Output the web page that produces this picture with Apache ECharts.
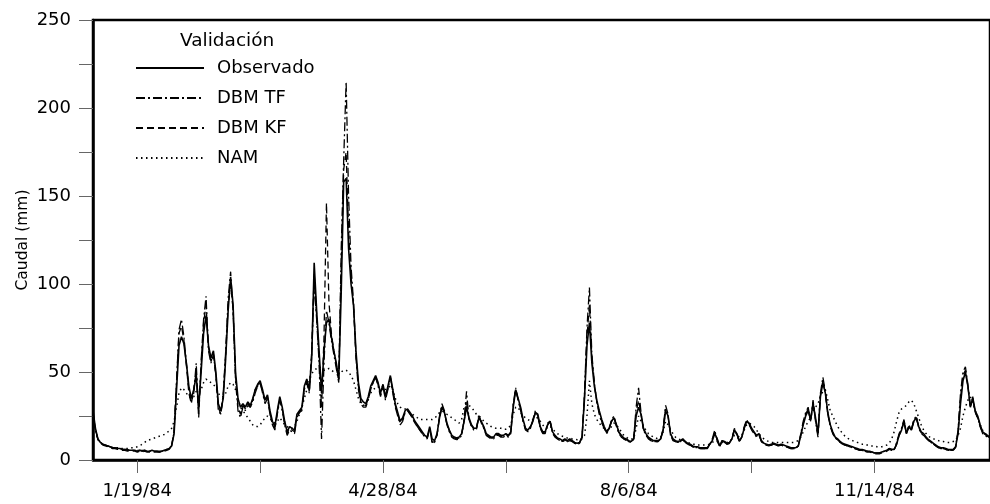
<!DOCTYPE html>
<html>
<head>
<meta charset="utf-8">
<script src="https://cdn.jsdelivr.net/npm/echarts@6/dist/echarts.min.js"></script>
<style>
html,body{margin:0;padding:0;background:#fff;}
#chart{width:990px;height:504px;}
</style>
</head>
<body>
<div id="chart"></div>
<script>
// Day index 0 = 1/1/84
const tickDays = [18, 68, 118, 168, 218, 268, 318];
const labelDays = [18, 118, 218, 318];
const tickLabels = ['1/19/84', '4/28/84', '8/6/84', '11/14/84'];
const seriesNames = ['Observado', 'DBM TF', 'DBM KF', 'NAM'];

const observado = [
28,18,12,10,9,8.5,8,7.5,7,7,
6.5,6.5,6,6,5.5,5.5,5.5,5.5,5,5.5,
5,5.5,5,5,5.5,5,5,4.5,5,5.5,
6,6.5,8,15,40,65,70,66,55,42,
35,40,48,30,50,72,82,65,58,62,
50,32,28,35,58,85,104,88,50,35,
30,32,30,33,31,35,40,43,45,40,
34,37,28,22,19,28,36,30,22,16,
19,18,17,26,28,30,42,46,40,58,
112,85,62,38,62,78,80,70,62,55,
46,95,158,160,120,100,88,62,44,35,
33,32,36,42,45,48,44,38,43,36,
42,48,40,32,27,22,24,28,29,27,
25,22,20,18,16,14,13,19,12,11,
15,24,30,27,21,17,14,13,12.5,13,
15,22,30,24,20,18,18,24,22,19,
15,14,13,13,15,15,14,14,15,14,
16,30,40,35,30,23,18,17,19,22,
27,26,19,16,16,20,22,16,14,12.5,
12,11,12,11,12,11,10,9.5,10,13,
35,65,78,55,42,34,28,23,19,16,
18,22,24,20,16,14,12.5,12,11,10.5,
12,25,30,26,18,15,13,12,11,11,
11,12,17,28,25,15,12,11,10.5,11,
12,10.5,9.5,9,8,7.5,7.5,7,7,7,
7,9,11,15,12,8,11,10.5,9.5,10,
12,17,15,11,13,18,22,21,18,16,
14,15,11,9.5,9,8.5,9,9.5,9,8.5,
9,8.5,8,7.5,7,7,7,8,14,20,
25,28,23,32,24,15,36,44,38,27,
20,16,13,12,10.5,9.5,9,8.5,8,7.5,
7,6.5,6,6,5.5,5,5,4.5,4,4,
4,4.5,5,5.5,6.5,6,6,9,14,17,
22,15,19,17,22,24,19,16,15,13,
11.5,10.5,9.5,8.5,7.5,7,7,6.5,6,6,
6,7.5,15,32,45,50,42,30,35,28,
25,20,16,15,14,13
];

const dbmTF = [
26,17,12,10,9,8.5,8,7.5,7,7,
6.5,6.5,6,6,6,5.5,5.5,5.5,5.5,5.5,
5.5,5.5,5,5,5,5,5,5,5,5.5,
6,6.5,8,16,45,74,80,70,55,40,
33,38,55,26,56,80,93,62,55,60,
48,28,26,38,62,92,107,84,45,28,
24,30,28,31,30,33,38,42,44,38,
32,35,26,20,17,26,34,28,20,14,
17,16,15,24,27,28,40,44,38,60,
100,80,55,12,55,85,78,68,60,52,
44,120,170,215,150,110,90,58,40,32,
30,30,34,40,44,47,42,36,42,34,
40,47,38,30,25,20,22,27,28,26,
24,21,19,17,15,13,12,18,9.5,10,
14,25,32,28,20,16,13,12,11.5,12,
14,23,39,23,19,17,17,26,21,18,
14,13,12,12,14,14,13,13,14,13,
15,32,41,34,28,22,17,16,18,23,
28,25,18,15,15,21,22,15,13,12,
11,10.5,11,10.5,11,10.5,9.5,9,9.5,13,
38,75,98,60,44,33,26,21,18,15,
17,23,25,19,15,13,12,11,10.5,10,
12,30,41,27,17,14,12,11,10.5,10.5,
10.5,12,18,31,26,14,11,10.5,10,10.5,
11.5,10,9,8.5,7.5,7,7,6.5,6.5,6.5,
6.5,9,12,17,11,7.5,11,10,9,9.5,
12,18,14,10.5,13,19,23,20,17,15,
13,14,10.5,9,8.5,8,8.5,9,8.5,8,
8.5,8,7.5,7,6.5,6.5,6.5,8,15,22,
27,30,22,34,22,13,38,47,39,26,
19,15,12.5,11.5,10,9,8.5,8,7.5,7,
6.5,6,5.5,5.5,5,5,4.5,4.5,4,4,
4,4.5,5,5.5,6.5,6,6,10,15,18,
23,15,20,17,23,25,18,15,14,12.5,
11,10,9,8,7,6.5,6.5,6,5.5,5.5,
5.5,7.5,17,38,50,53,43,30,36,27,
24,19,15,14,13,12
];

const dbmKF = [
27,17,11.5,9.5,8.5,8,7.5,7,6.5,6.5,
6,6,5.5,5.5,5,5,5,5,4.5,5,
4.5,5,4.5,4.5,5,4.5,4.5,4.5,4.5,5,
5.5,6,8,17,44,72,76,68,54,38,
32,40,50,24,54,78,88,64,56,60,
48,30,26,36,60,88,100,86,48,30,
26,31,29,32,30,34,40,42,44,39,
33,36,27,20,18,27,35,29,21,15,
18,17,16,25,27,29,41,45,39,62,
106,82,58,30,70,146,90,72,62,54,
45,110,165,175,130,105,88,60,42,33,
31,31,35,41,44,47,43,37,42,35,
41,47,39,31,26,21,23,27,28,26,
24,21,19,17,15,13.5,12.5,18,10,10.5,
14.5,24,31,27,20.5,16.5,13.5,12.5,12,12.5,
14.5,22,33,23,19.5,17.5,17.5,25,21,18.5,
14.5,13.5,12.5,12.5,14.5,14.5,13.5,13.5,14.5,13.5,
15.5,31,40,34,29,22,17.5,16.5,18.5,22,
27,25,18,15.5,15.5,20,22,15.5,13.5,12,
11.5,10.5,11.5,10.5,11.5,10.5,9.5,9,9.5,13,
36,70,88,58,43,33,27,22,18.5,15.5,
17.5,22,24,19.5,15.5,13.5,12,11.5,10.5,10,
12,27,34,26,17.5,14.5,12.5,11.5,10.5,10.5,
10.5,12,17,29,25,14.5,11.5,10.5,10,10.5,
11.5,10,9,8.5,7.5,7,7,6.5,6.5,6.5,
6.5,9,11,16,11.5,7.5,11,10,9,9.5,
12,17.5,14.5,10.5,13,18.5,22,20.5,17.5,15.5,
13.5,14.5,10.5,9,8.5,8,8.5,9,8.5,8,
8.5,8,7.5,7,6.5,6.5,6.5,8,14,21,
26,29,22,33,23,14,37,45,38,26,
19.5,15.5,12.5,11.5,10,9,8.5,8,7.5,7,
6.5,6,5.5,5.5,5,4.5,4.5,4,3.5,3.5,
3.5,4,4.5,5,6,5.5,5.5,9,14,17,
22,15,19,17,22,24,19,15.5,14.5,12.5,
11,10,9,8,7,6.5,6.5,6,5.5,5.5,
5.5,7,16,35,48,51,42,30,35,27,
24,19,15.5,14.5,13.5,12.5
];

const nam = [
25,17,12,10,9,8.5,8,7.5,7,7,
7,6.5,6.5,6.5,6.5,6.5,7,7,7.5,8,
9,10,11,11.5,12,12.5,13,13.5,14,14.5,
15.5,16.5,18,22,30,38,41,40,38,36,
35,36,39,38,40,44,46,45,44,43,
41,38,36,36,38,42,44,43,40,35,
30,28,26,24,22,20,19,19,20,22,
24,25,24,22,21,22,24,22,20,19,
18,18,19,22,26,30,35,40,45,49,
51,52,53,52,51,51,52,51,50,50,
50,50,51,51,50,48,45,40,35,32,
31,32,35,38,40,41,42,41,42,40,
41,42,40,35,32,30,29,29,28,27,
26,25,24,23,23,23,23,23,23,24,
25,27,28,27,26,25,24,23,22,21,
23,30,32,31,30,28,26,25,24,22,
21,20,19,18.5,18,18,18,17.5,17.5,18,
20,26,30,30,27,25,24,23,22,23,
24,24,22,20,18,18,19,18,16,15,
14,13.5,13,12.5,12.5,12,12,11.5,11.5,12,
14,25,45,32,26,23,21,19,18,17,
17,19,21,20,18,16,14,13,12,12,
12,18,25,22,19,17,15,14,13,12.5,
12,13,16,22,20,17,15,13,12,11.5,
11,10.5,10,9.5,9,9,8.5,8.5,8.5,8.5,
8.5,9,10,11,10.5,10,10,10,10,10.5,
12,14,14,13,14,17,20,21,20,19,
17,15,13,12,11,10.5,10,10,10,10,
10,10,10,10,10,10,10.5,11,13,16,
19,22,24,28,30,32,36,39,40,34,
28,25,22,19,17,15,13.5,12.5,11.5,11,
10.5,10,9.5,9,9,8.5,8,8,8,7.5,
7.5,7.5,8,8.5,9.5,12,16,22,27,29,
30,31,33,34,32,28,24,20,17,15,
13.5,12.5,12,11.5,11,10.5,10.5,10,10,10,
10.5,11,14,18,25,30,34,36,33,28,
24,20,17,15,14,13
];

const FONT = '"DejaVu Sans", "Liberation Sans", sans-serif';
const toXY = arr => arr.map((v, i) => [i, v]);

const chart = echarts.init(document.getElementById('chart'), null, {renderer: 'canvas'});

function lineSeries(name, data, type, width, z) {
  return {
    name: name,
    type: 'line',
    data: toXY(data),
    symbol: 'none',
    showSymbol: false,
    smooth: false,
    z: z,
    animation: false,
    color: '#000',
    itemStyle: {color: '#000'},
    lineStyle: {color: '#000', width: width, type: type},
    emphasis: {disabled: true}
  };
}

chart.setOption({
  animation: false,
  backgroundColor: '#fff',
  title: {
    text: 'Validación',
    left: 180, top: 32, padding: 0,
    textStyle: {fontSize: 18.5, fontWeight: 'normal', fontFamily: FONT, color: '#000'}
  },
  legend: {
    orient: 'vertical',
    left: 135, top: 59,
    padding: 0,
    itemWidth: 68, itemHeight: 14, itemGap: 12,
    data: seriesNames,
    selectedMode: false,
    itemStyle: {opacity: 0},
    textStyle: {fontSize: 18, fontFamily: FONT, color: '#000', padding: [0, 0, 0, 8]}
  },
  grid: {
    left: 93, right: -3, top: 20, bottom: 44,
    show: true, borderColor: '#000', borderWidth: 2.5, containLabel: false
  },
  xAxis: {
    type: 'value',
    min: 0, max: 365,
    axisLine: {show: true, lineStyle: {color: '#000', width: 2.5}},
    axisTick: {show: true, customValues: tickDays, length: 13, lineStyle: {color: '#666', width: 1}},
    axisLabel: {
      customValues: labelDays,
      formatter: v => tickLabels[labelDays.indexOf(v)] || '',
      margin: 22, fontSize: 18, fontFamily: FONT, color: '#000'
    },
    splitLine: {show: false}
  },
  yAxis: {
    type: 'value',
    min: 0, max: 250, interval: 25,
    name: 'Caudal (mm)',
    nameLocation: 'middle',
    nameGap: 62,
    nameMoveOverlap: false,
    nameTextStyle: {fontSize: 15.5, fontFamily: FONT, color: '#000'},
    axisLine: {show: true, lineStyle: {color: '#000', width: 2.5}},
    axisTick: {show: true, length: 14, lineStyle: {color: '#666', width: 1}},
    axisLabel: {
      formatter: v => (v % 50 === 0 ? String(v) : ''),
      margin: 22, fontSize: 18, fontFamily: FONT, color: '#000'
    },
    splitLine: {show: false}
  },
  series: [
    lineSeries('Observado', observado, 'solid', 1.6, 5),
    lineSeries('DBM TF', dbmTF, [9, 3, 2, 3], 1.3, 4),
    lineSeries('DBM KF', dbmKF, [7, 4], 1.3, 3),
    lineSeries('NAM', nam, [1.5, 3.5], 1.5, 2)
  ]
});
</script>
</body>
</html>
